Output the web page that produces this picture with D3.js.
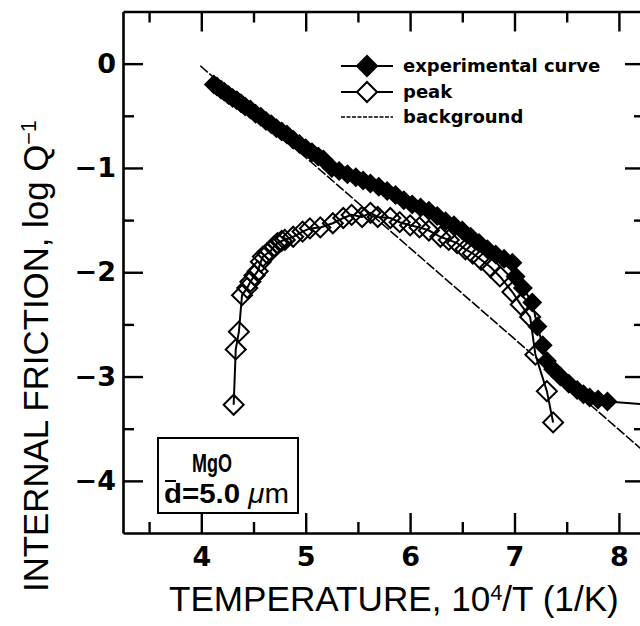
<!DOCTYPE html>
<html>
<head>
<meta charset="utf-8">
<script src="https://cdn.jsdelivr.net/npm/d3@7"></script>
<style>
body { margin: 0; background: #fff; }
svg { display: block; }
.num { font-family: "DejaVu Sans", sans-serif; font-weight: bold; font-size: 27px; fill: #000; }
.title { font-family: "Liberation Sans", Arial, sans-serif; fill: #000; }
.legend { font-family: "DejaVu Sans", sans-serif; font-weight: bold; font-size: 18px; fill: #000; }
.boxtxt { font-family: "Liberation Sans", Arial, sans-serif; font-weight: bold; fill: #000; }
</style>
</head>
<body>
<svg id="chart" width="640" height="626"></svg>
<script>
const SVG_WIDTH = 640;
const SVG_HEIGHT = 626;

// experimental curve, filled diamonds (10^4/T, log Q^-1)
var expX = [4.12, 4.15, 4.19, 4.22, 4.26, 4.30, 4.34, 4.38, 4.42, 4.47, 4.52, 4.57,
    4.62, 4.67, 4.72, 4.77, 4.82, 4.88, 4.94, 5.00, 5.06, 5.12, 5.17, 5.25, 5.32,
    5.40, 5.48, 5.55, 5.62, 5.70, 5.78, 5.86, 5.94, 6.02, 6.10, 6.18, 6.26, 6.34,
    6.42, 6.50, 6.58, 6.66, 6.74, 6.82, 6.90, 6.98, 7.01, 7.08, 7.17, 7.22, 7.27,
    7.31, 7.37, 7.44, 7.52, 7.60, 7.66, 7.72, 7.80, 7.89];
var expY = [-0.20, -0.22, -0.25, -0.27, -0.30, -0.33, -0.35, -0.38, -0.41, -0.44, -0.48, -0.51,
    -0.55, -0.58, -0.62, -0.65, -0.68, -0.73, -0.77, -0.81, -0.85, -0.89, -0.92, -1.00, -1.03,
    -1.06, -1.09, -1.12, -1.15, -1.18, -1.22, -1.26, -1.31, -1.35, -1.38, -1.41, -1.46, -1.51,
    -1.55, -1.60, -1.66, -1.72, -1.78, -1.83, -1.87, -1.91, -2.04, -2.15, -2.29, -2.52, -2.70,
    -2.85, -2.93, -3.00, -3.07, -3.13, -3.17, -3.20, -3.22, -3.24];
// the experimental line runs on past its last marker to the frame
var expTailX = [7.89, 8.30];
var expTailY = [-3.24, -3.27];

// peak, open diamonds
var peakX = [4.31, 4.33, 4.36, 4.39, 4.44, 4.47, 4.51, 4.54, 4.57, 4.59, 4.63, 4.66,
    4.70, 4.73, 4.77, 4.80, 4.88, 4.97, 5.04, 5.14, 5.26, 5.36, 5.44, 5.54, 5.62,
    5.69, 5.81, 5.90, 6.00, 6.09, 6.18, 6.29, 6.37, 6.45, 6.53, 6.60, 6.68, 6.77,
    6.86, 6.98, 7.06, 7.15, 7.20, 7.31, 7.37];
var peakY = [-3.27, -2.74, -2.57, -2.22, -2.15, -2.09, -2.03, -1.99, -1.90, -1.85, -1.82, -1.80,
    -1.75, -1.72, -1.70, -1.69, -1.66, -1.61, -1.58, -1.57, -1.53, -1.48, -1.45, -1.47, -1.43,
    -1.47, -1.48, -1.52, -1.55, -1.57, -1.60, -1.66, -1.69, -1.72, -1.78, -1.82, -1.88, -1.95,
    -2.04, -2.19, -2.31, -2.43, -2.79, -3.14, -3.44];

// background, thin dashed straight line
var bgX = [3.99, 8.30];
var bgY = [-0.02, -3.77];

var xTicks = [4, 5, 6, 7, 8];
var xMinorTicks = [3.5, 4.5, 5.5, 6.5, 7.5];
var yTicks = [0, -1, -2, -3, -4];
var yMinorTicks = [-0.5, -1.5, -2.5, -3.5];

var legendNames = ["experimental curve", "peak", "background"];
const X_TITLE = ["TEMPERATURE, 10", "4", "/T  (1/K)"];
const Y_TITLE = ["INTERNAL FRICTION, log Q", "\u22121"];
const BOX_LINES = ["MgO", "d", "=5.0 ", "\u03bc", "m"];

const PLOT_LEFT = 123, PLOT_RIGHT = 645, PLOT_TOP = 11.5, PLOT_BOTTOM = 533;

var svg = d3.select("#chart");
svg.append("rect").attr("width", SVG_WIDTH).attr("height", SVG_HEIGHT).attr("fill", "#fff");

var x = d3.scaleLinear().domain([3.25, 8.25]).range([PLOT_LEFT, PLOT_RIGHT]);
var y = d3.scaleLinear().domain([-4.5, 0.5]).range([PLOT_BOTTOM, PLOT_TOP]);
var intFormat = d3.format("d");

// axes: ticks point inward on all four sides
function styleAxis(g) {
    g.selectAll("line").attr("stroke", "#000").attr("stroke-width", 2.4);
    g.select(".domain").attr("stroke", "#000").attr("stroke-width", 2.6);
}
function addAxis(axis, tx, ty, minor) {
    var g = svg.append("g")
        .attr("transform", "translate(" + tx + "," + ty + ")")
        .call(axis);
    styleAxis(g);
    if (minor) g.select(".domain").remove();
    return g;
}
var left = addAxis(d3.axisLeft(y).tickValues(yTicks).tickSizeInner(-20).tickSizeOuter(0)
    .tickPadding(7).tickFormat(intFormat), PLOT_LEFT, 0, false);
left.selectAll("text").attr("class", "num");
left.attr("font-size", null).attr("font-family", null);
addAxis(d3.axisLeft(y).tickValues(yMinorTicks).tickSize(-11).tickFormat(""), PLOT_LEFT, 0, true);
addAxis(d3.axisRight(y).tickValues(yTicks).tickSizeInner(-20).tickSizeOuter(0).tickFormat(""),
    PLOT_RIGHT, 0, false);
addAxis(d3.axisRight(y).tickValues(yMinorTicks).tickSize(-11).tickFormat(""), PLOT_RIGHT, 0, true);

var bottom = addAxis(d3.axisBottom(x).tickValues(xTicks).tickSizeInner(-20).tickSizeOuter(0)
    .tickPadding(14).tickFormat(intFormat), 0, PLOT_BOTTOM, false);
bottom.selectAll("text").attr("class", "num");
bottom.attr("font-size", null).attr("font-family", null);
addAxis(d3.axisBottom(x).tickValues(xMinorTicks).tickSize(-11).tickFormat(""), 0, PLOT_BOTTOM, true);
addAxis(d3.axisTop(x).tickValues(xTicks).tickSizeInner(-20).tickSizeOuter(0).tickFormat(""),
    0, PLOT_TOP, false);
addAxis(d3.axisTop(x).tickValues(xMinorTicks).tickSize(-11).tickFormat(""), 0, PLOT_TOP, true);

// data
svg.append("clipPath").attr("id", "plotClip")
    .append("rect")
    .attr("x", PLOT_LEFT).attr("y", PLOT_TOP)
    .attr("width", PLOT_RIGHT - PLOT_LEFT).attr("height", PLOT_BOTTOM - PLOT_TOP);
var plot = svg.append("g").attr("clip-path", "url(#plotClip)");

function zip(xs, ys) {
    return xs.map(function(v, i) { return [v, ys[i]]; });
}
var line = d3.line()
    .x(function(d) { return x(d[0]); })
    .y(function(d) { return y(d[1]); });
var diamond = d3.symbol().type(d3.symbolSquare).size(200);

plot.append("path")
    .datum(zip(bgX, bgY))
    .attr("d", line)
    .attr("fill", "none").attr("stroke", "#000")
    .attr("stroke-width", 1.6).attr("stroke-dasharray", "10,2");

var expData = zip(expX, expY);
plot.append("path")
    .datum(expData.concat(zip(expTailX, expTailY).slice(1)))
    .attr("d", line)
    .attr("fill", "none").attr("stroke", "#000").attr("stroke-width", 2);
plot.selectAll(".exp")
    .data(expData)
    .enter()
    .append("path")
    .attr("class", "exp")
    .attr("d", diamond)
    .attr("transform", function(d) {
        return "translate(" + x(d[0]) + "," + y(d[1]) + ") rotate(45)";
    })
    .attr("fill", "#000");

var peakData = zip(peakX, peakY);
plot.append("path")
    .datum(peakData)
    .attr("d", line)
    .attr("fill", "none").attr("stroke", "#000").attr("stroke-width", 2);
plot.selectAll(".peak")
    .data(peakData)
    .enter()
    .append("path")
    .attr("class", "peak")
    .attr("d", diamond)
    .attr("transform", function(d) {
        return "translate(" + x(d[0]) + "," + y(d[1]) + ") rotate(45)";
    })
    .attr("fill", "none").attr("stroke", "#000").attr("stroke-width", 2);

// legend
var legendY = [66, 92, 117];
var legend = svg.append("g");
legendNames.forEach(function(name, i) {
    var ly = legendY[i];
    var seg = legend.append("line")
        .attr("x1", 341).attr("x2", 393).attr("y1", ly).attr("y2", ly)
        .attr("stroke", "#000");
    if (i === 2) {
        seg.attr("stroke-width", 1.6).attr("stroke-dasharray", "4,1.5");
    } else {
        seg.attr("stroke-width", 2);
        legend.append("path")
            .attr("d", diamond)
            .attr("transform", "translate(367," + ly + ") rotate(45)")
            .attr("fill", i === 0 ? "#000" : "#fff")
            .attr("stroke", "#000").attr("stroke-width", 2);
    }
    legend.append("text")
        .attr("class", "legend")
        .attr("x", 403).attr("y", ly)
        .attr("dy", "0.32em")
        .text(name);
});

// sample box
svg.append("rect")
    .attr("x", 158).attr("y", 438).attr("width", 140).attr("height", 75)
    .attr("fill", "#fff").attr("stroke", "#000").attr("stroke-width", 2);
svg.append("text").attr("class", "boxtxt")
    .attr("font-size", 25)
    .attr("x", 212).attr("y", 472).attr("text-anchor", "middle")
    .attr("textLength", 40).attr("lengthAdjust", "spacingAndGlyphs")
    .text(BOX_LINES[0]);
var boxLine = svg.append("text").attr("class", "boxtxt")
    .attr("font-size", 28)
    .attr("x", 164).attr("y", 503)
    .attr("textLength", 125).attr("lengthAdjust", "spacingAndGlyphs");
boxLine.append("tspan").text(BOX_LINES[1]);
boxLine.append("tspan").text(BOX_LINES[2]);
boxLine.append("tspan").attr("font-style", "italic").attr("font-weight", "normal").text(BOX_LINES[3]);
boxLine.append("tspan").attr("font-weight", "normal").text(BOX_LINES[4]);
// bar over the d (mean grain size), just above its ascender
svg.append("line")
    .attr("x1", 165).attr("x2", 176)
    .attr("y1", 481).attr("y2", 481)
    .attr("stroke", "#000").attr("stroke-width", 2);

// axis titles, font size fitted to the measured span
function fit(textSel, target) {
    var w = textSel.node().getBBox().width;
    var fs = parseFloat(textSel.attr("font-size"));
    textSel.attr("font-size", fs * target / w);
}
var xTitle = svg.append("text").attr("class", "title")
    .attr("font-size", 32)
    .attr("x", 169).attr("y", 611);
xTitle.append("tspan").text(X_TITLE[0]);
xTitle.append("tspan").attr("dy", -11).attr("font-size", "0.62em").text(X_TITLE[1]);
xTitle.append("tspan").attr("dy", 11).text(X_TITLE[2]);
fit(xTitle, 450);

var yTitle = svg.append("text").attr("class", "title")
    .attr("font-size", 32)
    .attr("transform", "rotate(-90)")
    .attr("x", -592).attr("y", 48);
yTitle.append("tspan").text(Y_TITLE[0]);
yTitle.append("tspan").attr("dy", -12).attr("font-size", "0.62em").text(Y_TITLE[1]);
fit(yTitle, 472);
</script>
</body>
</html>
